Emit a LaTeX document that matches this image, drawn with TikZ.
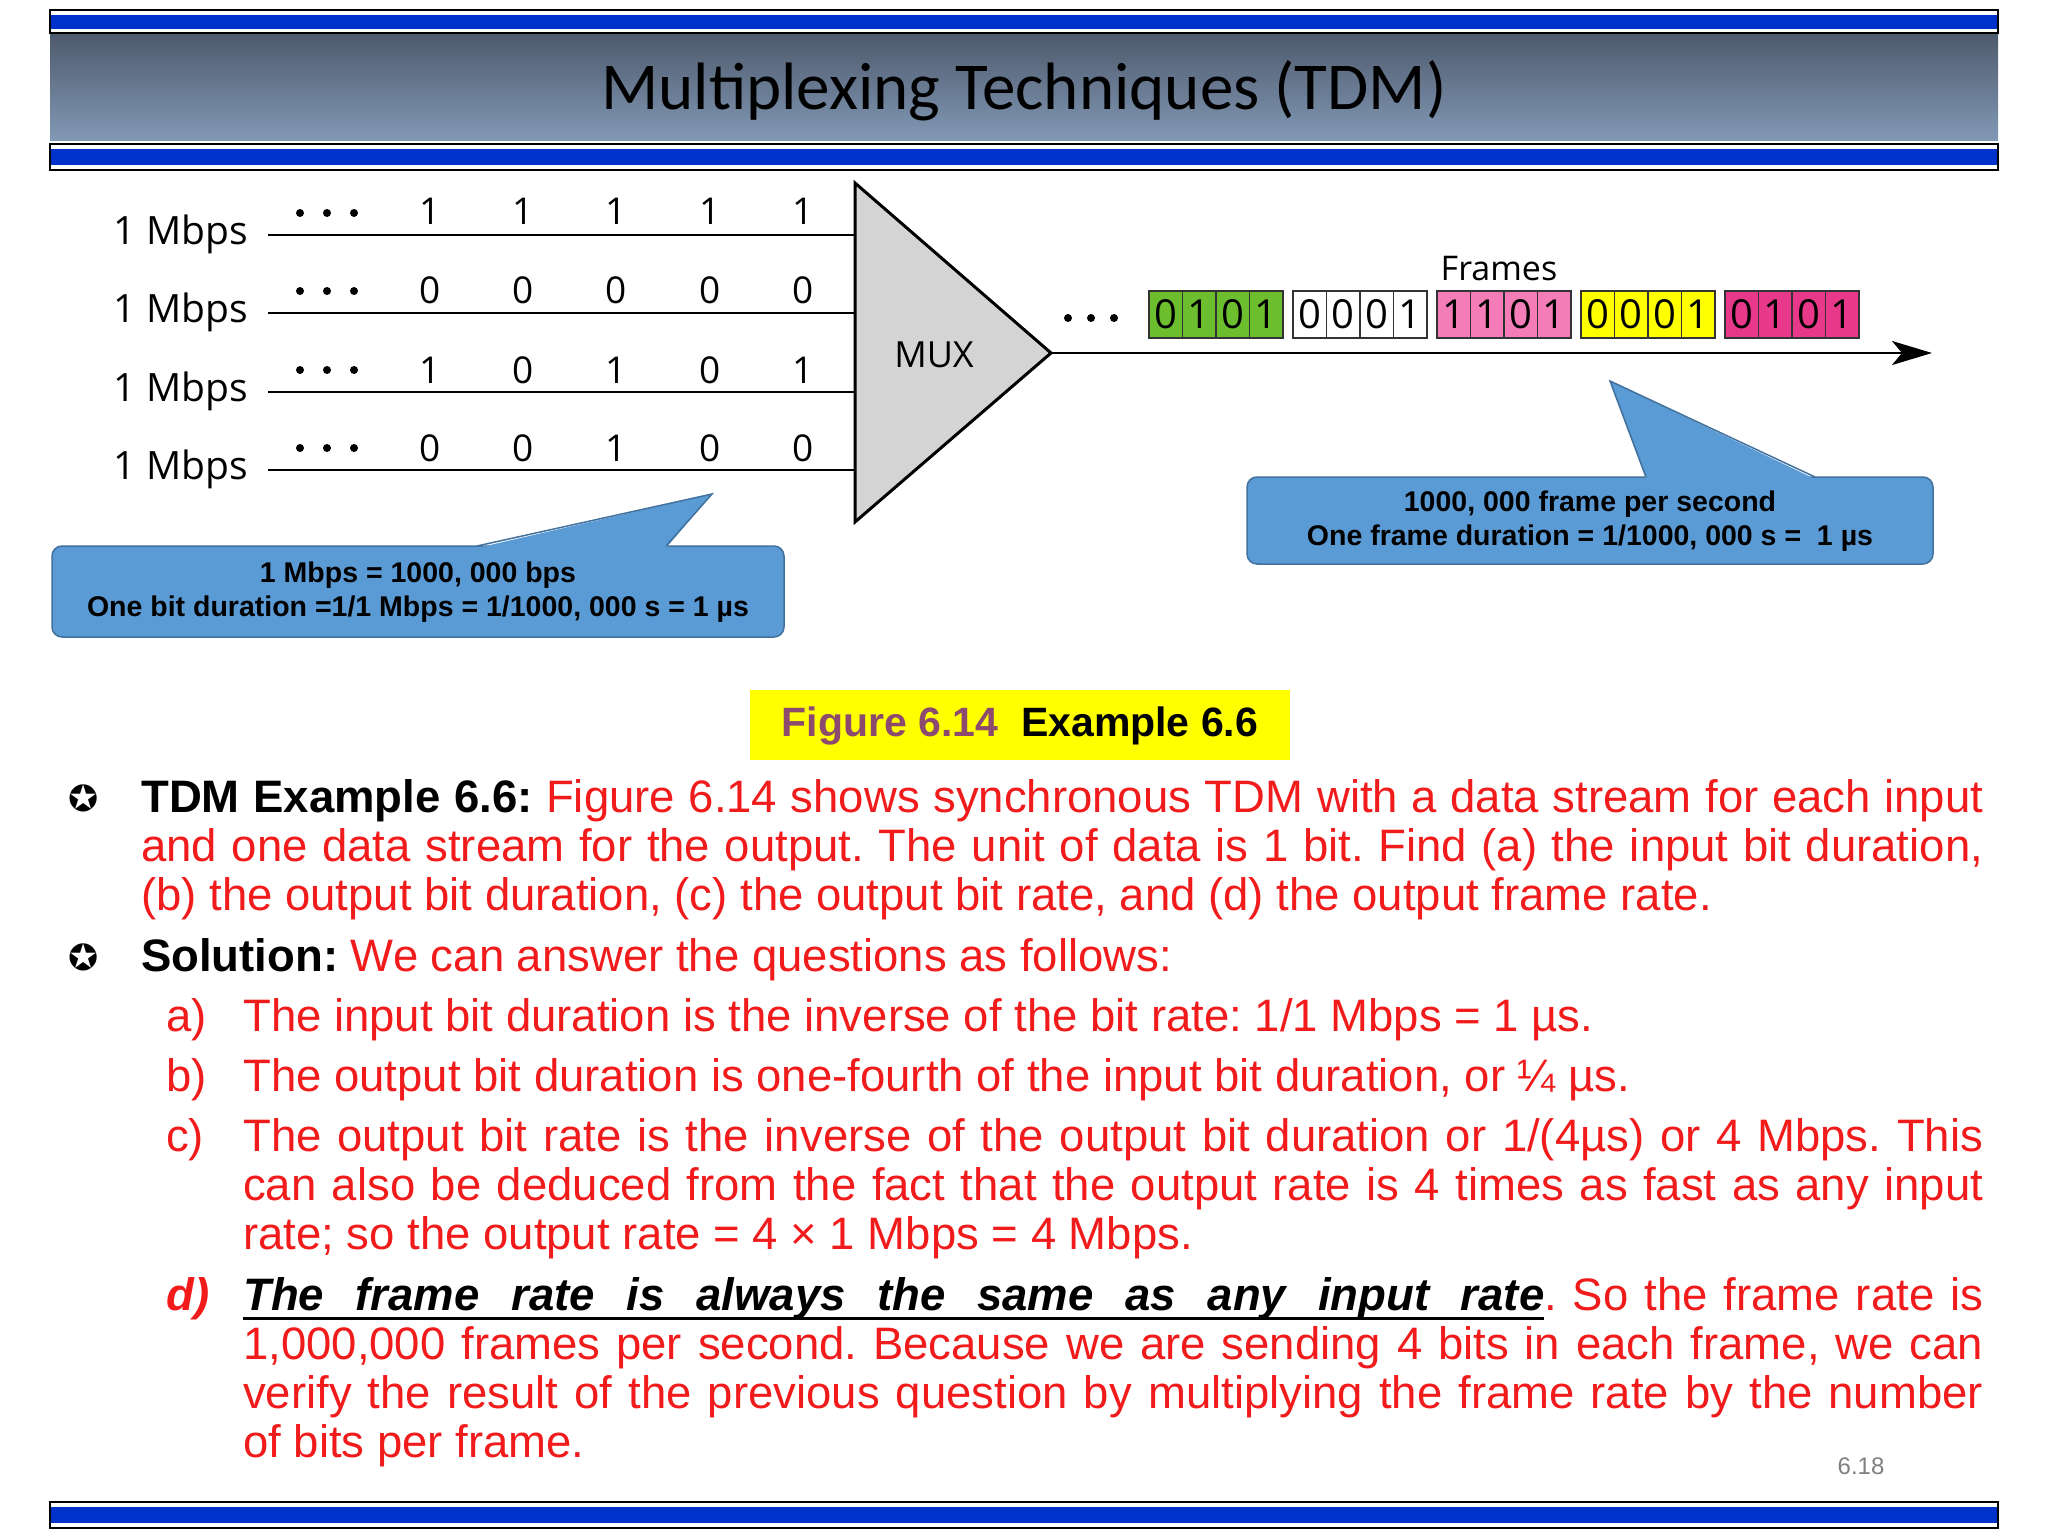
\documentclass[tikz,border=0pt]{standalone}
\usepackage{fontspec}
\setmainfont{Liberation Sans}
\newfontfamily\titlefont{Carlito}
\newfontfamily\figfont{Open Sans}
\newfontfamily\dejavu{DejaVu Sans}
\usetikzlibrary{arrows.meta}
\frenchspacing
\definecolor{bandblue}{HTML}{0033CC}
\definecolor{hdrtop}{HTML}{4F5B6E}
\definecolor{hdrbot}{HTML}{8299B5}
\definecolor{callfill}{HTML}{5B9BD5}
\definecolor{callline}{HTML}{41719C}
\definecolor{txtred}{HTML}{F21B1B}
\definecolor{figmauve}{HTML}{8C4B6E}
\definecolor{fgreen}{HTML}{6DBE2E}
\definecolor{fpink}{HTML}{F47DB8}
\definecolor{fyellow}{HTML}{FFFF00}
\definecolor{fmag}{HTML}{E8388A}
\definecolor{muxgray}{HTML}{D4D4D4}
\newcommand\ulw[1]{\setbox0\hbox{#1}\rlap{\vrule height -7pt depth 9.5pt width \wd0}\box0}
\newcommand\ulsp{\leaders\hrule height -7pt depth 9.5pt\hskip .28em plus .8em minus .1em\relax}
\tikzset{
  inline/.style={line width=2.5pt,black},
  bitlbl/.style={font=\figfont\fontsize{37}{37}\selectfont,inner sep=0},
  ratelbl/.style={font=\figfont\fontsize{39}{39}\selectfont,inner sep=0,anchor=east},
  dotc/.style={fill=black,draw=none},
  cell/.style={draw=black!80,line width=1.5pt,minimum width=33.5pt,minimum height=47pt,inner sep=0,font=\figfont\fontsize{40}{40}\selectfont},
  calltxt/.style={font=\bfseries\fontsize{28.5}{34}\selectfont,align=center,inner sep=0},
  para/.style={inner sep=0,anchor=north west,align=justify,font=\fontsize{45.5}{49}\selectfont,text=txtred},
  band/.style={draw=black,line width=2pt,fill=white},
}
\begin{document}
\begin{tikzpicture}[x=1pt,y=-1pt]
\useasboundingbox (0,0) rectangle (2048,1536);
\fill[white] (0,0) rectangle (2048,1536);
% header
\draw[band] (50,10) rectangle (1998,33);
\fill[bandblue] (51,15) rectangle (1997,29);
\shade[top color=hdrtop,bottom color=hdrbot] (50,35) rectangle (1998,141);
\draw[band] (50,144) rectangle (1998,170);
\fill[bandblue] (51,149) rectangle (1997,165);
\node[font=\titlefont\fontsize{67}{67}\selectfont,inner sep=0] (title) at (1024,91) {Multiplexing Techniques (TDM)};
% inputs
\coordinate (mt) at (855,183); \coordinate (mb) at (855,522); \coordinate (mo) at (1051,353);
\foreach \y/\n in {235/1,313/2,392/3,470/4}{
  \node[ratelbl] (r\n) at (248,\y-1) {1 Mbps};
  \coordinate (s\n) at (268,\y); \coordinate (e\n) at (855,\y);
  \draw[inline] (s\n) -- (e\n);
  \foreach \dx in {300,327,354}{\fill[dotc] (\dx,\y-22) circle (4);}
}
\foreach \b [count=\i] in {1,1,1,1,1}{\pgfmathsetmacro\xx{430+93.25*(\i-1)}\node[bitlbl] (a\i) at (\xx,211) {\b};}
\foreach \b [count=\i] in {0,0,0,0,0}{\pgfmathsetmacro\xx{430+93.25*(\i-1)}\node[bitlbl] (bb\i) at (\xx,290) {\b};}
\foreach \b [count=\i] in {1,0,1,0,1}{\pgfmathsetmacro\xx{430+93.25*(\i-1)}\node[bitlbl] (c\i) at (\xx,370) {\b};}
\foreach \b [count=\i] in {0,0,1,0,0}{\pgfmathsetmacro\xx{430+93.25*(\i-1)}\node[bitlbl] (d\i) at (\xx,448) {\b};}
\draw[fill=muxgray,line width=3pt,line join=miter] (mt) -- (mo) -- (mb) -- cycle;
\node[font=\figfont\fontsize{36}{36}\selectfont,inner sep=0] (mux) at (934,355) {MUX};
% output
\coordinate (arr) at (1932,353);
\draw[line width=2.5pt,-{Stealth[length=40pt,width=24pt,inset=10pt]}] (mo) -- (arr);
\foreach \dx in {1068,1091,1114}{\fill[dotc] (\dx,318) circle (4);}
\node[font=\figfont\fontsize{34}{34}\selectfont,inner sep=0] (frames) at (1499,269) {Frames};
\foreach \col/\bits/\xs in {fgreen/{0,1,0,1}/1149,white/{0,0,0,1}/1293,fpink/{1,1,0,1}/1437,fyellow/{0,0,0,1}/1581,fmag/{0,1,0,1}/1725}{
  \foreach \b [count=\j] in \bits {
    \pgfmathsetmacro\xx{\xs+33.5*(\j-1)+16.75}
    \node[cell,fill=\col] at (\xx,314) {\b};
  }
  \draw[black!80,line width=2pt] (\xs,290.5) rectangle (\xs+134,337.5);
}
% right callout
\draw[fill=callfill,draw=callline,line width=1.5pt,rounded corners=10pt] (1247,477) rectangle (1933,564);
\fill[callfill] (1646,479) -- (1610,381) -- (1815,479) -- cycle;
\draw[callline,line width=1.5pt] (1646,477) -- (1610,381) -- (1815,477);
\node[calltxt] (rc) at (1590,521) {1000, 000 frame per second\\One frame duration = 1/1000, 000 s = ~1 µs};
% left callout
\draw[fill=callfill,draw=callline,line width=1.5pt,rounded corners=10pt] (52,546) rectangle (784,637);
\fill[callfill] (477,548) -- (712,494) -- (666,548) -- cycle;
\draw[callline,line width=1.5pt] (477,546) -- (712,494) -- (666,546);
\node[calltxt] (lc) at (418,592) {1 Mbps = 1000, 000 bps\\One bit duration =1/1 Mbps = 1/1000, 000 s = 1 µs};
% caption
\fill[fyellow] (750,690) rectangle (1290,760);
\node[font=\bfseries\fontsize{41}{41}\selectfont,inner sep=0] (cap) at (1020,726) {\textcolor{figmauve}{Figure 6.14}\ \ Example 6.6};
% text
\node[inner sep=0,font=\dejavu\fontsize{36}{36}\selectfont] (bu1) at (84,798) {✪};
\node[inner sep=0,font=\dejavu\fontsize{36}{36}\selectfont] (bu2) at (84,957) {✪};
\node[para,text width=1842pt] (p1) at (141,812-34.3) {\strut\textcolor{black}{\bfseries TDM Example 6.6:} Figure 6.14 shows synchronous TDM with a data stream for each input and one data stream for the output. The unit of data is 1 bit. Find (a) the input bit duration, (b) the output bit duration, (c) the output bit rate, and (d) the output frame rate.};
\node[para,text width=1842pt] (p2) at (141,971-34.3) {\strut\textcolor{black}{\bfseries Solution:} We can answer the questions as follows:};
\foreach \l/\y in {a)/1031,b)/1091,c)/1151}{\node[para,text width=60pt,align=left] at (166,\y-34.3) {\strut\l};}
\node[para,text width=60pt,align=left] at (166,1310-34.3) {\strut\bfseries\itshape d)};
\node[para,text width=1740pt] (qa) at (243,1031-34.3) {\strut The input bit duration is the inverse of the bit rate: 1/1 Mbps = 1 µs.};
\node[para,text width=1740pt] (qb) at (243,1091-34.3) {\strut The output bit duration is one-fourth of the input bit duration, or ¼ µs.};
\node[para,text width=1740pt] (qc) at (243,1151-34.3) {\strut The output bit rate is the inverse of the output bit duration or 1/(4µs) or 4 Mbps. This\linebreak can also be deduced from the fact that the output rate is 4 times as fast as any input\linebreak rate; so the output rate = 4 × 1 Mbps = 4 Mbps.};
\node[para,text width=1740pt] (qd) at (243,1310-34.3) {\strut{\color{black}\bfseries\itshape\ulw{The}\ulsp\ulw{frame}\ulsp\ulw{rate}\ulsp\ulw{is}\ulsp\ulw{always}\ulsp\ulw{the}\ulsp\ulw{same}\ulsp\ulw{as}\ulsp\ulw{any}\ulsp\ulw{input}\ulsp\ulw{rate}}. So the frame rate is\linebreak 1,000,000 frames per second. Because we are sending 4 bits in each frame, we can\linebreak verify the result of the previous question by multiplying the frame rate by the number\linebreak of bits per frame.};
\node[inner sep=0,font=\fontsize{24}{24}\selectfont,text=black!50] (pg) at (1861,1466) {6.18};
\draw[band] (50,1502) rectangle (1998,1528);
\fill[bandblue] (51,1507) rectangle (1997,1523);
\end{tikzpicture}
\end{document}
